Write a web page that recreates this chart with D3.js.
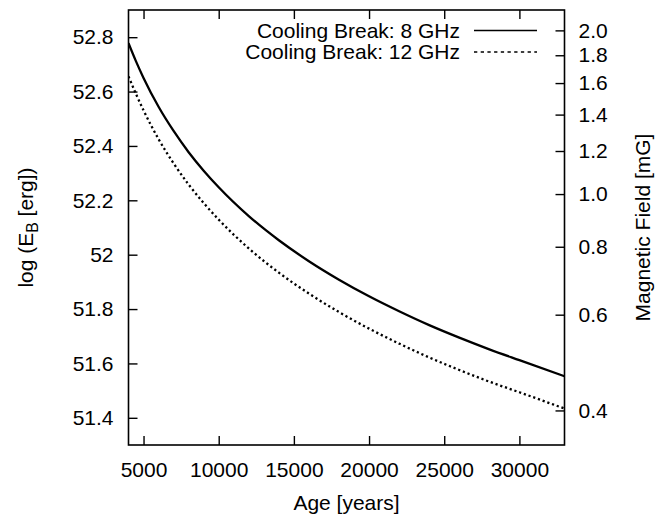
<!DOCTYPE html>
<html>
<head>
<meta charset="utf-8">
<script src="https://cdn.jsdelivr.net/npm/d3@7"></script>
<style>
  html, body { margin: 0; padding: 0; background: #fff; }
  svg text { font-family: "Liberation Sans", Arial, Helvetica, sans-serif; fill: #000; }
</style>
</head>
<body>
<svg id="chart" width="666" height="516"></svg>
<script>
// Source age in years
const ages = [4000, 4500, 5000, 6000, 7000, 8000, 9000, 10000, 12000, 14000, 16000,
              18000, 20000, 22000, 24000, 26000, 28000, 30000, 33000];
// log10 of magnetic energy (erg), cooling break at 8 GHz
const logEB8 = [52.778, 52.711, 52.650, 52.544, 52.455, 52.377, 52.309, 52.248, 52.142,
                52.053, 51.976, 51.908, 51.847, 51.792, 51.741, 51.695, 51.652, 51.612, 51.553];
// log10 of magnetic energy (erg), cooling break at 12 GHz
const logEB12 = [52.656, 52.591, 52.531, 52.425, 52.336, 52.258, 52.190, 52.129, 52.023,
                 51.934, 51.857, 51.789, 51.728, 51.673, 51.622, 51.576, 51.533, 51.494, 51.434];

const seriesNames = ["Cooling Break: 8 GHz", "Cooling Break: 12 GHz"];
const xTicks = [5000, 10000, 15000, 20000, 25000, 30000];
const yTicks = [51.4, 51.6, 51.8, 52, 52.2, 52.4, 52.6, 52.8];
const bTicks = [0.4, 0.6, 0.8, 1.0, 1.2, 1.4, 1.6, 1.8, 2.0];
const xDomain = [4000, 33000];
const yDomain = [51.3, 52.9];
// log E_B at which the field equals 1 mG (E_B scales as B^2)
const logEBatOneMilliGauss = 52.223;

const svg = d3.select("#chart");
const plotL = 128.5, plotR = 564.5, plotT = 10, plotB = 445;
const fontSize = 21;

const x = d3.scaleLinear().domain(xDomain).range([plotL, plotR]);
const y = d3.scaleLinear().domain(yDomain).range([plotB, plotT]);
const toField = v => Math.pow(10, (v - logEBatOneMilliGauss) / 2);
const yB = d3.scaleLog().domain(yDomain.map(toField)).range([plotB, plotT]);

const tickLen = 9;

// Bottom axis
const gx = svg.append("g").attr("transform", `translate(0,${plotB})`)
  .call(d3.axisBottom(x).tickValues(xTicks).tickFormat(d3.format("d"))
        .tickSizeInner(-tickLen).tickSizeOuter(0).tickPadding(17));
// Top mirror ticks
const gxt = svg.append("g").attr("transform", `translate(0,${plotT})`)
  .call(d3.axisTop(x).tickValues(xTicks).tickFormat("")
        .tickSizeInner(-tickLen).tickSizeOuter(0));
// Left axis
const gy = svg.append("g").attr("transform", `translate(${plotL},0)`)
  .call(d3.axisLeft(y).tickValues(yTicks).tickFormat(d => String(d))
        .tickSizeInner(-tickLen).tickSizeOuter(0).tickPadding(15));
// Right axis: magnetic field
const gb = svg.append("g").attr("transform", `translate(${plotR},0)`)
  .call(d3.axisRight(yB).tickValues(bTicks).tickFormat(d3.format(".1f"))
        .tickSizeInner(-tickLen).tickSizeOuter(0).tickPadding(14));

[gx, gxt, gy, gb].forEach(g => {
  g.select(".domain").remove();
  g.selectAll(".tick line").attr("stroke", "#000").attr("stroke-width", 1.4);
  g.selectAll(".tick text").attr("font-size", fontSize)
    .attr("font-family", "'Liberation Sans', Arial, sans-serif").attr("fill", "#000");
});

// Curves
const line = d3.line().curve(d3.curveMonotoneX);
const pts8 = ages.map((a, i) => [x(a), y(logEB8[i])]);
const pts12 = ages.map((a, i) => [x(a), y(logEB12[i])]);

svg.append("clipPath").attr("id", "plotclip")
  .append("rect").attr("x", plotL).attr("y", plotT)
  .attr("width", plotR - plotL).attr("height", plotB - plotT);

svg.append("path").attr("d", line(pts8))
  .attr("fill", "none").attr("stroke", "#000").attr("stroke-width", 2.3)
  .attr("clip-path", "url(#plotclip)");
svg.append("path").attr("d", line(pts12))
  .attr("fill", "none").attr("stroke", "#000").attr("stroke-width", 2.3)
  .attr("stroke-dasharray", "2.2,2.8")
  .attr("clip-path", "url(#plotclip)");

// Frame
svg.append("rect").attr("x", plotL).attr("y", plotT)
  .attr("width", plotR - plotL).attr("height", plotB - plotT)
  .attr("fill", "none").attr("stroke", "#000").attr("stroke-width", 1.6);

// Legend
const legend = svg.append("g");
const keyTextX = 460, keySampleX0 = 474, keySampleX1 = 537;
const keyRows = [30.5, 52];
seriesNames.forEach((name, i) => {
  legend.append("text").attr("x", keyTextX).attr("y", keyRows[i])
    .attr("dy", "0.35em").attr("text-anchor", "end")
    .attr("font-size", fontSize).text(name);
  const s = legend.append("line")
    .attr("x1", keySampleX0).attr("x2", keySampleX1)
    .attr("y1", keyRows[i]).attr("y2", keyRows[i])
    .attr("stroke", "#000").attr("stroke-width", 1.5);
  if (i === 1) s.attr("stroke-dasharray", "3.3,3.4");
});

// Axis titles
svg.append("text").attr("x", (plotL + plotR) / 2).attr("y", 510)
  .attr("text-anchor", "middle").attr("font-size", fontSize).text("Age [years]");

const yl = svg.append("text")
  .attr("transform", `translate(33,${(plotT + plotB) / 2}) rotate(-90)`)
  .attr("text-anchor", "middle").attr("font-size", fontSize);
yl.append("tspan").text("log (E");
yl.append("tspan").attr("font-size", fontSize * 0.75).attr("dy", "0.3em").text("B");
yl.append("tspan").attr("dy", "-0.22em").text(" [erg])");

svg.append("text")
  .attr("transform", `translate(650,${(plotT + plotB) / 2}) rotate(-90)`)
  .attr("text-anchor", "middle").attr("font-size", fontSize).text("Magnetic Field [mG]");
</script>
</body>
</html>
